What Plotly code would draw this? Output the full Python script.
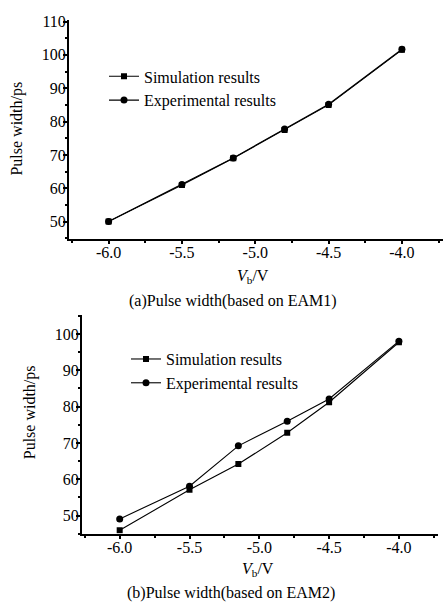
import plotly.graph_objects as go

vb = [-6.0, -5.5, -5.15, -4.8, -4.5, -4.0]
sim_a = [50.0, 61.0, 69.0, 77.5, 85.0, 101.5]
exp_a = [50.0, 61.1, 69.1, 77.8, 85.2, 101.7]
sim_b = [46.0, 57.1, 64.2, 72.8, 81.2, 97.7]
exp_b = [49.1, 58.1, 69.2, 76.0, 82.1, 98.0]

FONT = "Liberation Serif, Times New Roman, serif"
W, H = 443, 605

fig = go.Figure()
line = dict(color="black", width=1.1)
fig.add_trace(go.Scatter(x=vb, y=sim_a, mode="lines+markers", name="Simulation results",
                         line=line, marker=dict(symbol="square", size=6, color="black"),
                         xaxis="x", yaxis="y", legend="legend"))
fig.add_trace(go.Scatter(x=vb, y=exp_a, mode="lines+markers", name="Experimental results",
                         line=line, marker=dict(symbol="circle", size=7, color="black"),
                         xaxis="x", yaxis="y", legend="legend"))
fig.add_trace(go.Scatter(x=vb, y=sim_b, mode="lines+markers", name="Simulation results",
                         line=line, marker=dict(symbol="square", size=6, color="black"),
                         xaxis="x2", yaxis="y2", legend="legend2"))
fig.add_trace(go.Scatter(x=vb, y=exp_b, mode="lines+markers", name="Experimental results",
                         line=line, marker=dict(symbol="circle", size=7, color="black"),
                         xaxis="x2", yaxis="y2", legend="legend2"))

def xax(dom, anchor):
    return dict(domain=dom, anchor=anchor, range=[-6.27, -3.72], tickvals=[-6.0, -5.5, -5.0, -4.5, -4.0],
                ticktext=["-6.0", "-5.5", "-5.0", "-4.5", "-4.0"], showline=True, linecolor="black",
                linewidth=2, ticks="outside", ticklen=3, tickwidth=1.5, tickcolor="black",
                ticklabelstandoff=-5,
                minor=dict(dtick=0.25, tick0=-6.0, ticks="outside", ticklen=2, tickcolor="black"),
                showgrid=False, zeroline=False, tickfont=dict(family=FONT, size=16, color="black"))

def yax(dom, anchor, rng, vals):
    return dict(domain=dom, anchor=anchor, range=rng, tickvals=vals, showline=True, linecolor="black",
                linewidth=2, ticks="outside", ticklen=4, tickwidth=1.5, tickcolor="black",
                ticklabelstandoff=-6,
                minor=dict(dtick=5, ticks="outside", ticklen=2, tickcolor="black"),
                showgrid=False, zeroline=False, tickfont=dict(family=FONT, size=16, color="black"))

def px(x):
    return x / W

def py(y):
    return 1 - y / H

fig.update_layout(
    width=W, height=H, margin=dict(l=0, r=0, t=0, b=0),
    paper_bgcolor="white", plot_bgcolor="white",
    font=dict(family=FONT, color="black"),
    xaxis=xax([px(69), px(443)], "y"),
    yaxis=yax([py(235), py(13)], "x", [44.7, 110.5], [50, 60, 70, 80, 90, 100, 110]),
    xaxis2=xax([px(82), px(438)], "y2"),
    yaxis2=yax([py(533), py(312)], "x2", [45.0, 105.1], [50, 60, 70, 80, 90, 100]),
    legend=dict(x=px(104), y=py(53), xanchor="left", yanchor="top", bgcolor="rgba(0,0,0,0)",
                font=dict(family=FONT, size=16), tracegroupgap=0, itemwidth=30),
    legend2=dict(x=px(126), y=py(339), xanchor="left", yanchor="top", bgcolor="rgba(0,0,0,0)",
                 font=dict(family=FONT, size=16), tracegroupgap=0, itemwidth=30),
    showlegend=True,
)

ann = [
    dict(text="<i>V</i><sub>b</sub>/V", x=px(253), y=py(273)),
    dict(text="<i>V</i><sub>b</sub>/V", x=px(258), y=py(569)),
    dict(text="(a)Pulse width(based on EAM1)", x=px(233), y=py(297)),
    dict(text="(b)Pulse width(based on EAM2)", x=px(231), y=py(593)),
]
for a in ann:
    fig.add_annotation(text=a["text"], x=a["x"], y=a["y"], xref="paper", yref="paper",
                       showarrow=False, xanchor="center", yanchor="middle",
                       font=dict(family=FONT, size=16, color="black"))
for (x, y) in [(17, 123), (30, 410)]:
    fig.add_annotation(text="Pulse width/ps", x=px(x), y=py(y), xref="paper", yref="paper",
                       showarrow=False, xanchor="center", yanchor="middle", textangle=-90,
                       font=dict(family=FONT, size=16, color="black"))

fig.write_html("out.html")
